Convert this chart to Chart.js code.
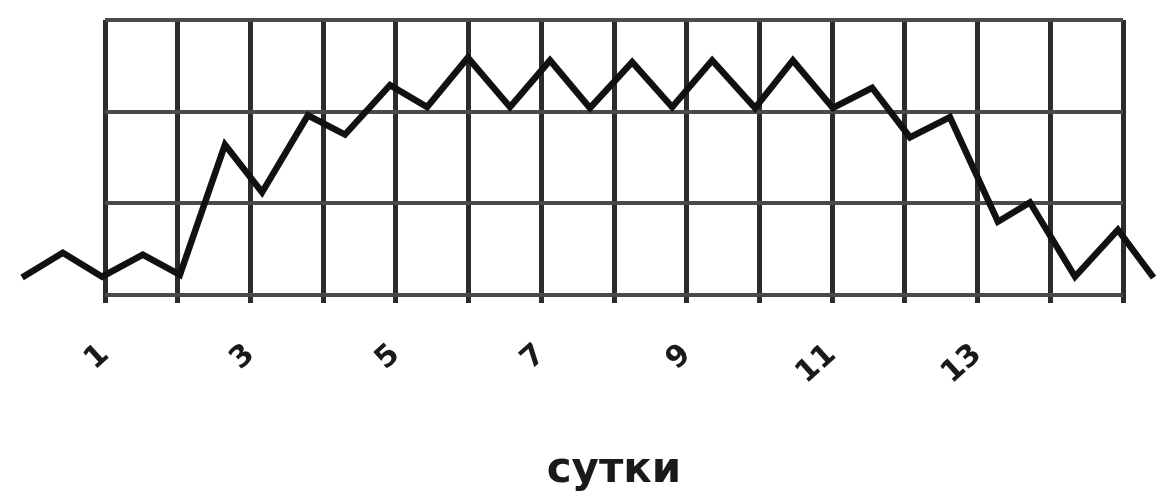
<!DOCTYPE html>
<html>
<head>
<meta charset="utf-8">
<script src="https://cdn.jsdelivr.net/npm/chart.js@4"></script>
<style>
  html, body { margin: 0; padding: 0; background: #fff; }
  #wrap { width: 1158px; height: 496px; }
</style>
</head>
<body>
<div id="wrap"><canvas id="dayChart"></canvas></div>
<script>
// position of each point, in days from the first grid line (0 = day 1)
const dayPos = [-1.14, -0.58, -0.04, 0.52, 1.03, 1.65, 2.16, 2.79, 3.30, 3.92,
    4.43, 4.99, 5.57, 6.12, 6.67, 7.25, 7.80, 8.35, 8.94, 9.46,
    10.01, 10.55, 11.07, 11.62, 12.28, 12.72, 13.34, 13.93, 14.42];
// level of the curve, in grid rows (0 = bottom line, 3 = top line)
const levels = [0.19, 0.46, 0.20, 0.44, 0.22, 1.64, 1.12, 1.96, 1.75, 2.29,
    2.05, 2.59, 2.05, 2.56, 2.04, 2.54, 2.05, 2.56, 2.04, 2.56,
    2.04, 2.26, 1.72, 1.94, 0.80, 1.01, 0.20, 0.71, 0.19];
// labels under the grid lines 0..14
const tickLabels = ['1', '', '3', '', '5', '', '7', '', '9', '', '11', '', '13', '', ''];
const axisTitle = 'сутки';

document.addEventListener('DOMContentLoaded', function() {
    const ctx = document.getElementById('dayChart').getContext('2d');
    new Chart(ctx, {
        type: 'line',
        data: {
            datasets: [{
                data: dayPos.map((x, i) => ({ x: x, y: levels[i] })),
                borderColor: '#111',
                borderWidth: 6.5,
                borderJoinStyle: 'miter',
                pointRadius: 0,
                tension: 0,
                clip: false
            }]
        },
        options: {
            responsive: true,
            maintainAspectRatio: false,
            animation: false,
            layout: {
                padding: { left: 105, right: 35, top: 20, bottom: 0 }
            },
            plugins: {
                legend: { display: false },
                tooltip: { enabled: false }
            },
            scales: {
                x: {
                    type: 'linear',
                    // fix the grid to 15 lines but keep the points outside it
                    afterDataLimits: function(scale) {
                        scale.min = 0;
                        scale.max = tickLabels.length - 1;
                    },
                    afterFit: function(scale) {
                        scale.height = 201;
                        scale.paddingLeft = 0;
                        scale.paddingRight = 0;
                    },
                    border: { display: false },
                    grid: {
                        color: '#2b2b2b',
                        lineWidth: 5,
                        drawTicks: true,
                        tickLength: 8
                    },
                    ticks: {
                        stepSize: 1,
                        autoSkip: false,
                        minRotation: 42,
                        maxRotation: 42,
                        padding: 34,
                        color: '#1a1a1a',
                        font: { family: 'DejaVu Sans', size: 30, weight: 'bold' },
                        callback: function(value) {
                            return tickLabels[value] || '';
                        }
                    },
                    title: {
                        display: true,
                        text: axisTitle,
                        color: '#1a1a1a',
                        font: { family: 'DejaVu Sans', size: 42, weight: 'bold' },
                        padding: { top: 0, bottom: 0 }
                    }
                },
                y: {
                    min: 0,
                    max: 3,
                    afterFit: function(scale) {
                        scale.width = 0;
                    },
                    border: { display: false },
                    grid: {
                        color: '#4a4a4a',
                        lineWidth: 4,
                        drawTicks: false
                    },
                    ticks: {
                        display: false,
                        stepSize: 1
                    }
                }
            }
        }
    });
});
</script>
</body>
</html>
